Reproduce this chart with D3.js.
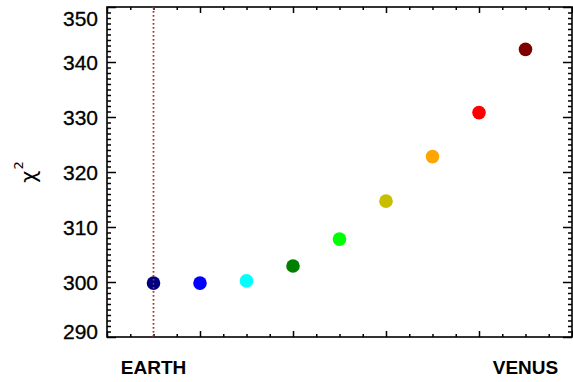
<!DOCTYPE html>
<html>
<head>
<meta charset="utf-8">
<script src="https://cdn.jsdelivr.net/npm/d3@7"></script>
<style>
  html, body { margin: 0; padding: 0; background: #fff; }
  svg { display: block; }
</style>
</head>
<body>
<svg id="chart" width="573" height="382"></svg>
<script>
// Chi-square for each step between the two end-member models
const steps = [0, 1, 2, 3, 4, 5, 6, 7, 8];
const chi2 = [299.8, 299.8, 300.2, 302.9, 307.8, 314.7, 322.8, 330.8, 342.3];
const colors = ["#000080", "#0000ff", "#00ffff", "#008000", "#00ff00",
                "#c8be00", "#ffa500", "#ff0000", "#800000"];
const yTickValues = [290, 300, 310, 320, 330, 340, 350];
const endLabels = [{ at: 0, text: "EARTH" }, { at: 8, text: "VENUS" }];

const svg = d3.select("#chart");
const plotL = 107, plotR = 572, plotT = 7, plotB = 337;

const x = d3.scaleLinear().domain([-1, 9]).range([plotL, plotR]);
const y = d3.scaleLinear().domain([290, 350]).range([plotB, plotT]);

const xMajor = d3.range(-1, 9.01, 2);
const xMinor = d3.range(-1, 9.01, 0.5).filter(v => !xMajor.includes(v));
const yMinor = d3.range(290, 350.01, 1).filter(v => v % 10 !== 0);

function styleAxis(g) {
  g.select(".domain").remove();
  g.selectAll(".tick line").attr("stroke", "#000").attr("stroke-width", 1.5);
}

// x ticks, bottom and top
svg.append("g").attr("transform", `translate(0,${plotB})`)
  .call(d3.axisTop(x).tickValues(xMajor).tickSize(6).tickFormat("")).call(styleAxis);
svg.append("g").attr("transform", `translate(0,${plotB})`)
  .call(d3.axisTop(x).tickValues(xMinor).tickSize(3).tickFormat("")).call(styleAxis);
svg.append("g").attr("transform", `translate(0,${plotT})`)
  .call(d3.axisBottom(x).tickValues(xMajor).tickSize(6).tickFormat("")).call(styleAxis);
svg.append("g").attr("transform", `translate(0,${plotT})`)
  .call(d3.axisBottom(x).tickValues(xMinor).tickSize(3).tickFormat("")).call(styleAxis);

// y ticks, left (labelled) and right
const yLeft = svg.append("g").attr("transform", `translate(${plotL},0)`)
  .call(d3.axisRight(y).tickValues(yTickValues).tickSize(9).tickFormat(d3.format("d")))
  .call(styleAxis);
yLeft.selectAll(".tick text")
  .attr("x", -9).attr("text-anchor", "end")
  .attr("font-family", "Liberation Sans, Arial, Helvetica, sans-serif")
  .attr("font-size", 21).attr("fill", "#000")
  .attr("stroke", "#000").attr("stroke-width", 0.3)
  .attr("dy", d => d === 350 ? "0.87em" : d === 290 ? "0.08em" : "0.35em");
svg.append("g").attr("transform", `translate(${plotL},0)`)
  .call(d3.axisRight(y).tickValues(yMinor).tickSize(4).tickFormat("")).call(styleAxis);
svg.append("g").attr("transform", `translate(${plotR},0)`)
  .call(d3.axisLeft(y).tickValues(yTickValues).tickSize(9).tickFormat("")).call(styleAxis);
svg.append("g").attr("transform", `translate(${plotR},0)`)
  .call(d3.axisLeft(y).tickValues(yMinor).tickSize(4).tickFormat("")).call(styleAxis);

// frame
svg.append("rect")
  .attr("x", plotL).attr("y", plotT)
  .attr("width", plotR - plotL).attr("height", plotB - plotT)
  .attr("fill", "none").attr("stroke", "#000").attr("stroke-width", 1.6);

// reference line at the first model
function refLine(y1, y2) {
  svg.append("line")
    .attr("x1", x(steps[0])).attr("x2", x(steps[0]))
    .attr("y1", y1).attr("y2", y2)
    .attr("stroke", "#d02828").attr("stroke-width", 1.5)
    .attr("stroke-dasharray", "1.5,2.5");
}
refLine(plotT, plotB);

// points
svg.append("g").selectAll("circle")
  .data(steps)
  .join("circle")
  .attr("cx", d => x(d))
  .attr("cy", (d, i) => y(chi2[i]))
  .attr("r", 6.8)
  .attr("fill", (d, i) => colors[i]);

// dotted line shows through the first marker
refLine(plotT, plotB);

// end-member labels
svg.append("g").selectAll("text")
  .data(endLabels)
  .join("text")
  .attr("x", d => x(d.at))
  .attr("y", 374)
  .attr("text-anchor", "middle")
  .attr("font-family", "Liberation Sans, Arial, Helvetica, sans-serif")
  .attr("font-weight", "bold")
  .attr("font-size", 19)
  .text(d => d.text);

// y axis title: chi squared
const yt = svg.append("text")
  .attr("transform", "translate(36,172) rotate(-90)")
  .attr("text-anchor", "middle")
  .attr("font-family", "DejaVu Sans, sans-serif")
  .attr("font-size", 21);
yt.append("tspan").text("χ");
yt.append("tspan").attr("font-size", 13).attr("dy", -13).attr("dx", 1).text("2");
</script>
</body>
</html>
